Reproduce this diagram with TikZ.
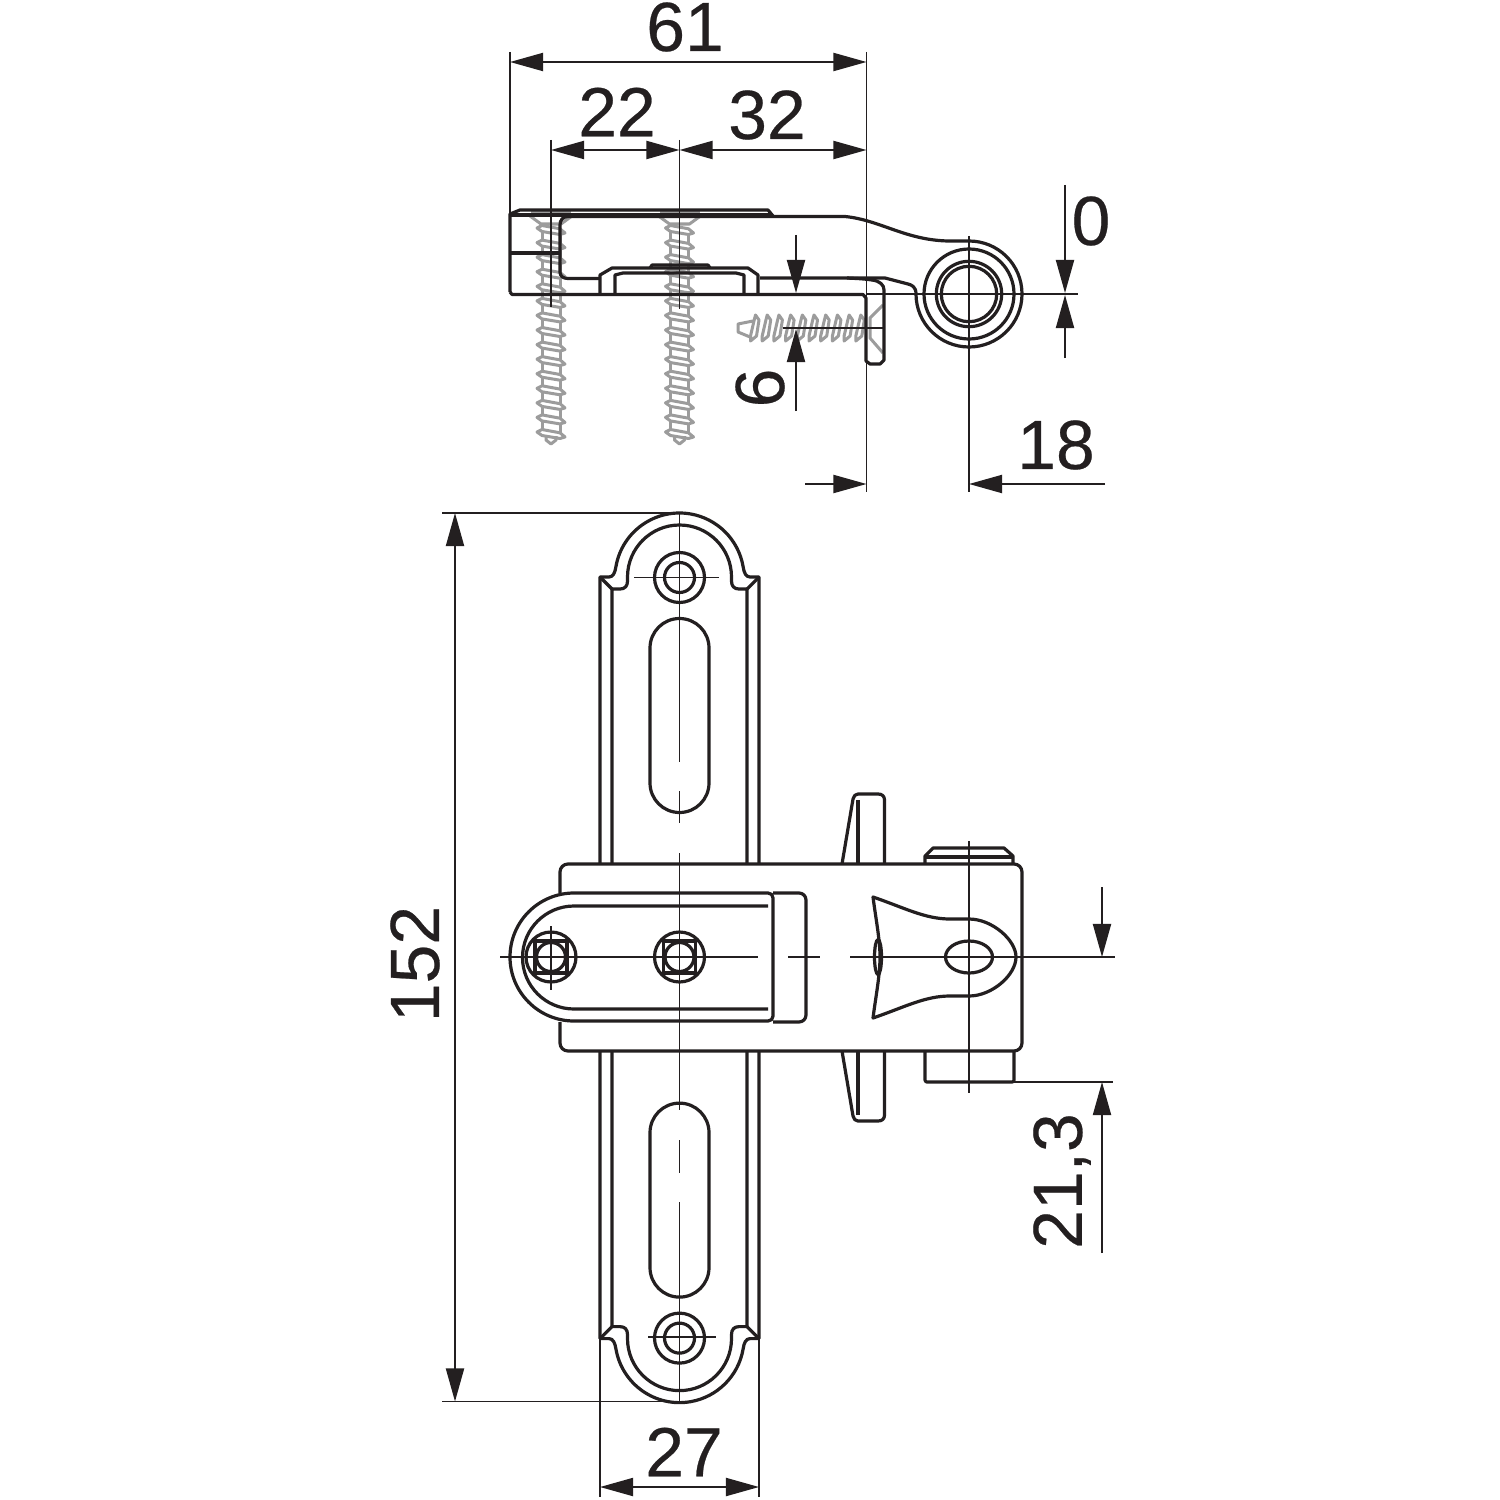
\documentclass[tikz,border=0pt]{standalone}
\usepackage{fontspec}
\setmainfont{Liberation Sans}[RawFeature={embolden=0.35}]
\usetikzlibrary{arrows.meta}
\definecolor{screwgrey}{HTML}{9C9C9C}
\definecolor{ink}{HTML}{231F20}
\tikzset{
  x=0.01cm,y=-0.01cm,
  part/.style={draw=ink,line width=0.32mm,line join=round},
  axis/.style={draw=ink,line width=0.19mm},
  dimline/.style={draw=ink,line width=0.19mm},
  screw/.style={draw=screwgrey,line width=0.3mm,line join=round},
  lab/.style={font=\fontsize{19.8}{22}\selectfont,text=ink,inner sep=0pt},
  tipA/.tip={Triangle[length=3.3mm,width=1.8mm]},
}
\newcommand{\vscrew}[1]{%
  \begin{scope}[shift={(#1,0)}]
    \draw[screw] (-21,216) -- (-10,224) -- (10,224) -- (21,216);
    \draw[screw,line width=0.55mm] (-20,212.5) -- (20,212.5);
    \foreach \v in {228,242.6,257.1,271.7,286.3,300.9,315.4,330,344.6,359.1,373.7,388.3,402.9,417.4,432}{
      \draw[screw,fill=white] (-14,\v) -- (-9,\v-2.5) -- (9,\v+0.8) -- (14,\v+5) -- (9,\v+6.5) -- (-9,\v+3.5) -- cycle;
    }
    \foreach \v in {228,242.6,257.1,271.7,286.3,300.9,315.4,330,344.6,359.1,373.7,388.3,402.9,417.4}{
      \draw[screw] (-9,\v+3.5) -- (-9,\v+12);
      \draw[screw] (9,\v+6.5) -- (9,\v+15.4);
    }
    \draw[screw] (-5,436) -- (-5,440) -- (0,444) -- (5,440) -- (5,436);
  \end{scope}}
\newcommand{\plateend}{%
  \draw[part] (600,864) -- (600,577) -- (609,577) .. controls (613,577) and (615,573) .. (616,566.3)
    arc[start angle=190,end angle=350,radius=64.5]
    .. controls (744,573) and (746,577) .. (750,577) -- (759,577) -- (759,864);
  \draw[part] (612,864) -- (612,589) -- (620,589) .. controls (625,589) and (627.5,586) .. (627.5,581) -- (627.5,577)
    arc[start angle=180,end angle=360,radius=52]
    -- (731.5,581) .. controls (731.5,586) and (734,589) .. (739,589) -- (747,589) -- (747,864);
  \draw[part] (600,577) -- (612,589) (759,577) -- (747,589);
  \draw[part] (679.5,577.5) circle[radius=25];
  \draw[part] (679.5,577.5) circle[radius=15];
  \draw[part] (650,648) arc[start angle=180,end angle=360,radius=29.5] -- (709,783)
    arc[start angle=0,end angle=180,radius=29.5] -- cycle;
}
\newcommand{\bolt}[1]{%
  \draw[part] (#1,957) circle[radius=25];
  \draw[part] (#1-16,941) rectangle (#1+16,973);
  \draw[part] (#1,957) circle[radius=14.5];
}
\begin{document}
\begin{tikzpicture}
\useasboundingbox (0,0) rectangle (1500,1500);
\fill[white] (0,0) rectangle (1500,1500);

% ---- screws
\vscrew{551}
\vscrew{679.5}
\foreach \u in {753,764.7,776.4,788.1,799.8,811.5,823.2,834.9,846.6,858.3}{
  \draw[screw,fill=white] (\u-2.5,341) -- (\u-2.5,336) -- (\u+1.2,320) -- (\u+2.5,315) -- (\u+6,320) -- (\u+3.5,336) -- cycle;
}
\draw[screw] (753,321) -- (738,324) -- (738,332) -- (750,337);
\draw[screw] (883,305) -- (870,318) -- (870,338) -- (883,353);

% ---- top view part
\draw[part] (510,292) -- (510,214) -- (520,210) -- (768,210) -- (773,216);
\draw[part] (510,215) -- (773,215);
\draw[part] (510,253) -- (560,253);
\draw[part] (510,292) -- (512,294.5) -- (863,294.5) -- (866,298) -- (866,361) -- (870,364) -- (880,364) -- (884,360) -- (884,290)
  .. controls (884,285) and (880,281) .. (872,280) .. controls (862,278.5) and (855,278.5) .. (847,278);
\draw[part] (568,216.5) -- (845,216.5) .. controls (880,220) and (905,240) .. (948,241) -- (969,241)
  arc[start angle=-90,end angle=180,radius=53]
  .. controls (916,287) and (912,285) .. (908,284) -- (885,278) -- (760,278);
\draw[part] (568,216.5) .. controls (563,216.5) and (560,220) .. (560,225) -- (560,272)
  .. controls (560,276) and (563,278.5) .. (568,278.5) -- (600,278.5);
\draw[part] (600,294) -- (600,275) -- (612,268) -- (748,268) -- (758,275) -- (758,294);
\draw[part] (615,294) -- (615,275) -- (623,273) -- (736,273) -- (744,275) -- (744,294);
\draw[part] (650,268) -- (652,265) -- (708,265) -- (710,268);
\foreach \r in {45,32.7,27.7}{\draw[part] (969,294) circle[radius=\r];}

% ---- front view plates
\plateend
\begin{scope}[cm={1,0,0,-1,(0cm,-19.145cm)}]
  \plateend
\end{scope}

% ---- knobs and caps (behind the body outline)
\draw[part] (842,864) -- (853,799) .. controls (854,796) and (855,794) .. (858,794) -- (878,794)
  .. controls (882,794) and (884.5,796) .. (884.5,800) -- (884.5,864);
\draw[part] (858,800) -- (858,864);
\draw[part] (842,1051) -- (853,1116) .. controls (854,1119) and (855,1121) .. (858,1121) -- (878,1121)
  .. controls (882,1121) and (884.5,1119) .. (884.5,1115) -- (884.5,1051);
\draw[part] (858,1051) -- (858,1115);
\draw[part] (925,864) -- (925,856) -- (933,848) -- (1004,848) -- (1013,856) -- (1013,864);
\draw[part] (925,857) -- (1013,857);
\draw[part,rounded corners=0.02cm] (925,1051) -- (925,1082) -- (1014,1082) -- (1014,1051);

% ---- body
\draw[part,rounded corners=0.08cm] (560,893) -- (560,864) -- (1022,864) -- (1022,1051) -- (560,1051) -- (560,1022);
\draw[part] (574,893) arc[start angle=270,end angle=90,radius=64] -- (768,1021)
  .. controls (771,1021) and (773,1019) .. (773,1016) -- (773,898) .. controls (773,895) and (771,893) .. (768,893) -- cycle;
\draw[part,rounded corners=0.07cm] (773,893) -- (806,893) -- (806,1022) -- (773,1022);
\draw[part] (768,906) -- (574,906) arc[start angle=270,end angle=90,radius=51.5] -- (768,1009);
\bolt{551}
\bolt{679.5}

% ---- leaf
\draw[part] (873,897) .. controls (905,908) and (925,919) .. (950,919) -- (969,919)
  .. controls (992,919) and (1016,940) .. (1016,957) .. controls (1016,975) and (992,996) .. (969,996)
  -- (950,996) .. controls (925,996) and (905,1007) .. (873,1018)
  .. controls (876,995) and (880,975) .. (880,957) .. controls (880,940) and (876,920) .. (873,897) -- cycle;
\draw[part] (878,957) ellipse[x radius=3.5,y radius=17.5];
\draw[part] (969,957) ellipse[x radius=23.5,y radius=16];

% ---- centre lines
\draw[axis] (679.5,513) -- (679.5,762) (679.5,791) -- (679.5,823) (679.5,853) -- (679.5,1110)
  (679.5,1140) -- (679.5,1173) (679.5,1202) -- (679.5,1402);
\draw[axis] (634,577.5) -- (719,577.5) (648,1337) -- (716,1337);
\draw[axis] (551,926) -- (551,990);
\draw[axis] (500,957) -- (758,957) (788,957) -- (820,957) (850,957) -- (1115,957);
\draw[axis] (969,841) -- (969,1093);
\draw[axis] (783,328) -- (884,328);
\draw[axis] (866,294) -- (1078,294);
\draw[axis] (969,236) -- (969,492);

% ---- dimension anchors
\coordinate (a61l) at (510,62);  \coordinate (a61r) at (866.5,62);
\coordinate (a22l) at (551,150); \coordinate (a22m) at (679.5,150); \coordinate (a32r) at (866.5,150);
\coordinate (a0top) at (1065,185); \coordinate (a0t) at (1065,293); \coordinate (a0bot) at (1065,358); \coordinate (a0b) at (1065,295);
\coordinate (a6top) at (796,235); \coordinate (a6t) at (796,293); \coordinate (a6bot) at (796,411); \coordinate (a6b) at (796,329);
\coordinate (a18l0) at (805,484); \coordinate (a18l) at (866.5,484); \coordinate (a18r) at (969,484); \coordinate (a18r0) at (1105,484);
\coordinate (a152t) at (455,513); \coordinate (a152b) at (455,1401.5);
\coordinate (a27l) at (600,1487); \coordinate (a27r) at (759,1487);
\coordinate (a21top) at (1102,887); \coordinate (a21t) at (1102,957); \coordinate (a21bot) at (1102,1253); \coordinate (a21b) at (1102,1082);

% ---- extension lines
\draw[dimline] (510,52) -- (510,214);
\draw[dimline] (866.5,52) -- (866.5,492);
\draw[dimline] (551,140) -- (551,307);
\draw[dimline] (679.5,140) -- (679.5,309);
\draw[dimline] (442,513) -- (680,513);
\draw[dimline] (442,1401.5) -- (680,1401.5);
\draw[dimline] (600,1337) -- (600,1497);
\draw[dimline] (759,1337) -- (759,1497);
\draw[dimline] (1014,1082) -- (1113,1082);

% ---- dimension lines
\draw[dimline,{tipA}-{tipA}] (a61l) -- (a61r);
\draw[dimline,{tipA}-{tipA}] (a22l) -- (a22m);
\draw[dimline,{tipA}-{tipA}] (a22m) -- (a32r);
\draw[dimline,-{tipA}] (a0top) -- (a0t);
\draw[dimline,-{tipA}] (a0bot) -- (a0b);
\draw[dimline,-{tipA}] (a6top) -- (a6t);
\draw[dimline,-{tipA}] (a6bot) -- (a6b);
\draw[dimline,-{tipA}] (a18l0) -- (a18l);
\draw[dimline,-{tipA}] (a18r0) -- (a18r);
\draw[dimline,{tipA}-{tipA}] (a152t) -- (a152b);
\draw[dimline,{tipA}-{tipA}] (a27l) -- (a27r);
\draw[dimline,-{tipA}] (a21top) -- (a21t);
\draw[dimline,-{tipA}] (a21bot) -- (a21b);

% ---- labels
\node[lab] (t61) at (685,27) {61};
\node[lab] (t22) at (617,112) {22};
\node[lab] (t32) at (767,115) {32};
\node[lab] (t0) at (1091,221) {0};
\node[lab,rotate=90] (t6) at (760,388) {6};
\node[lab] (t18) at (1056,445) {18};
\node[lab,rotate=90] (t152) at (415,964) {152};
\node[lab] (t27) at (684,1452) {27};
\node[lab,rotate=90] (t213) at (1062,1181) {21,3};
\end{tikzpicture}
\end{document}
